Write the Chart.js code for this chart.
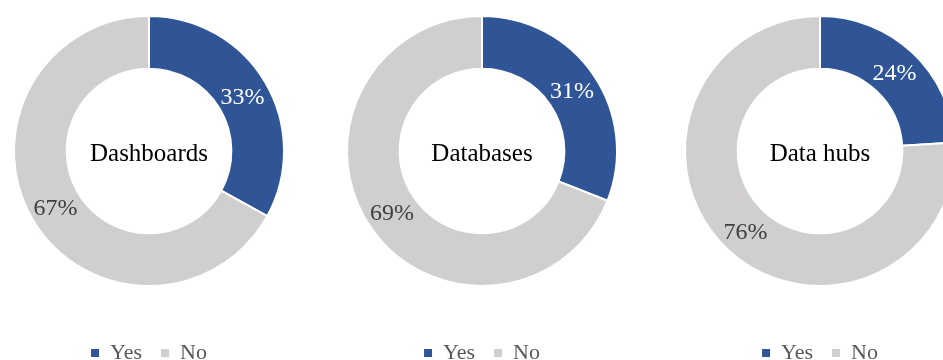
<!DOCTYPE html>
<html>
<head>
<meta charset="utf-8">
<script src="https://cdn.jsdelivr.net/npm/chart.js@4.4.1/dist/chart.umd.min.js"></script>
<style>
  html, body { margin: 0; padding: 0; background: #fff; }
  #page { position: relative; width: 943px; height: 360px; overflow: hidden; background: #fff; }
  .panel { position: absolute; top: -21px; width: 300px; height: 395px; }
</style>
</head>
<body>
<div id="page">
  <div class="panel" style="left:-1px"><canvas id="c0"></canvas></div>
  <div class="panel" style="left:332px"><canvas id="c1"></canvas></div>
  <div class="panel" style="left:670px"><canvas id="c2"></canvas></div>
</div>
<script>
const categories = ['Yes', 'No'];
const panelTitles = ['Dashboards', 'Databases', 'Data hubs'];
const yesShares = [33, 31, 24];
const noShares = [67, 69, 76];

const sliceColors = ['#2F5597', '#D0CECE'];
const labelColors = ['#FFFFFF', '#404040'];
const serif = "'Liberation Serif', 'Times New Roman', serif";

// percentage on each slice + title in the hole
const ringText = {
    id: 'ringText',
    afterDatasetsDraw(chart, args, opts) {
        const ctx = chart.ctx;
        const meta = chart.getDatasetMeta(0);
        const values = chart.data.datasets[0].data;
        ctx.save();
        ctx.textAlign = 'center';
        ctx.textBaseline = 'middle';
        ctx.font = '24px ' + serif;
        meta.data.forEach((arc, i) => {
            const p = arc.tooltipPosition();
            ctx.fillStyle = labelColors[i];
            ctx.fillText(values[i] + '%', p.x, p.y + 2);
        });
        const c = meta.data[0];
        ctx.fillStyle = '#000';
        ctx.font = '25px ' + serif;
        ctx.fillText(opts.title, c.x, c.y + 3);
        ctx.restore();
    }
};

panelTitles.forEach((title, i) => {
    new Chart(document.getElementById('c' + i), {
        type: 'doughnut',
        data: {
            labels: categories,
            datasets: [{
                data: [yesShares[i], noShares[i]],
                backgroundColor: sliceColors,
                borderColor: '#FFFFFF',
                borderWidth: 2
            }]
        },
        options: {
            responsive: true,
            maintainAspectRatio: false,
            animation: false,
            cutout: '61%',
            layout: { padding: { left: 14, right: 14, top: 0, bottom: 0 } },
            plugins: {
                tooltip: { enabled: false },
                ringText: { title: title },
                legend: {
                    position: 'bottom',
                    labels: {
                        boxWidth: 8,
                        boxHeight: 8,
                        padding: 19,
                        color: '#595959',
                        font: { family: serif, size: 22 },
                        generateLabels(chart) {
                            return Chart.overrides.doughnut.plugins.legend.labels
                                .generateLabels(chart)
                                .map(l => ({ ...l, lineWidth: 0 }));
                        }
                    }
                }
            }
        },
        plugins: [ringText]
    });
});
</script>
</body>
</html>
